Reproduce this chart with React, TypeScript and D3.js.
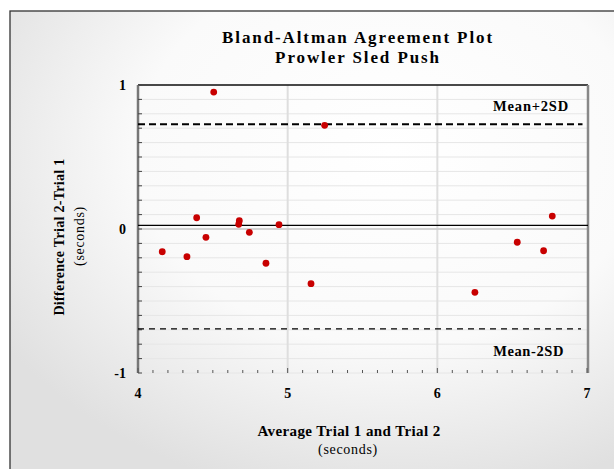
import React from "react";
import * as d3 from "d3";

const avgTrials = [4.506, 5.247, 4.392, 4.677, 4.673, 4.942, 4.744, 4.454, 4.162, 4.327, 4.855, 5.156, 6.768, 6.534, 6.71, 6.251];
const diffTrials = [0.951, 0.72, 0.078, 0.058, 0.033, 0.03, -0.023, -0.058, -0.158, -0.192, -0.238, -0.38, 0.09, -0.092, -0.151, -0.44];
const meanDiff = 0.025;
const upperLimit = 0.727;
const lowerLimit = -0.694;
const xTicks = [4, 5, 6, 7];
const yTicks = [-1, 0, 1];
const titleLines = ["Bland-Altman Agreement Plot", "Prowler Sled Push"];
const xTitleLines = ["Average Trial 1 and Trial 2", "(seconds)"];
const yTitleLines = ["Difference Trial 2-Trial 1", "(seconds)"];

const W = 614, H = 469;
const L = 138, R = 588, T = 85, B = 373;
const FONT = "'Liberation Serif', 'DejaVu Serif', serif";

export default function App() {
  const x = d3.scaleLinear().domain([4, 7]).range([L, R - 1]);
  const y = d3.scaleLinear().domain([-1, 1]).range([B, T]);
  const minorY = d3.range(-10, 11).map((v) => v / 10);
  const minorX = d3.range(40, 71).map((v) => v / 10);

  return (
    <svg width={W} height={H} style={{ position: "absolute", left: 0, top: 0 }} fontFamily={FONT}>
      <defs>
        <radialGradient id="bg" cx="0.62" cy="0.3" r="0.75">
          <stop offset="0" stopColor="#ffffff" />
          <stop offset="0.55" stopColor="#fafafa" />
          <stop offset="1" stopColor="#e0e0e0" />
        </radialGradient>
      </defs>
      <rect x={0} y={0} width={W} height={H} fill="#ffffff" />
      <rect x={10} y={11} width={W} height={H} fill="url(#bg)" stroke="#333" strokeWidth={1.3} />

      {/* minor gridlines */}
      {minorY.map((v) => (
        <line key={"gy" + v} x1={L} x2={R} y1={y(v)} y2={y(v)} stroke="#e6e6e6" strokeWidth={1} />
      ))}
      {[5, 6].map((v) => (
        <line key={"gx" + v} x1={x(v)} x2={x(v)} y1={T} y2={B} stroke="#dedede" strokeWidth={2} />
      ))}
      <line x1={L} x2={R} y1={y(0)} y2={y(0)} stroke="#c8c8c8" strokeWidth={1.5} />

      {/* frame */}
      <line x1={L} x2={R} y1={T} y2={T} stroke="#111" strokeWidth={1.5} />
      <line x1={R} x2={R} y1={T} y2={B} stroke="#888" strokeWidth={2.5} />
      <line x1={L} x2={L} y1={T} y2={B} stroke="#777" strokeWidth={2.5} />

      {/* y ticks */}
      {minorY.map((v) => (
        <line key={"ty" + v} x1={L} x2={L + 4} y1={y(v)} y2={y(v)} stroke="#444" strokeWidth={1} />
      ))}
      {/* x ticks */}
      {minorX.map((v) => {
        const major = Math.abs(v - Math.round(v)) < 1e-6;
        return (
          <line key={"tx" + v} x1={x(v)} x2={x(v)} y1={B} y2={B - (major ? 5 : 3)} stroke="#555" strokeWidth={1} />
        );
      })}

      {/* reference lines */}
      <line x1={L} x2={x(6.97)} y1={y(upperLimit)} y2={y(upperLimit)} stroke="#000" strokeWidth={2} strokeDasharray="7,4" />
      <line x1={L} x2={x(6.96)} y1={y(lowerLimit)} y2={y(lowerLimit)} stroke="#000" strokeWidth={1.3} strokeDasharray="6,5" />
      <line x1={L} x2={R} y1={y(meanDiff)} y2={y(meanDiff)} stroke="#000" strokeWidth={1.3} />

      {/* points */}
      {avgTrials.map((a, i) => (
        <circle key={"p" + i} cx={x(a)} cy={y(diffTrials[i])} r={3.4} fill="#c80000" />
      ))}

      {/* labels */}
      <text x={569} y={111} textAnchor="end" fontSize={14.5} fontWeight="bold" letterSpacing={0.8}>Mean+2SD</text>
      <text x={564} y={356} textAnchor="end" fontSize={14.5} fontWeight="bold" letterSpacing={0.6}>Mean-2SD</text>

      {yTicks.map((v) => (
        <text key={"yl" + v} x={126} y={y(v) + 5} textAnchor="end" fontSize={14} fontWeight="bold">{v === -1 ? "-1" : String(v)}</text>
      ))}
      {xTicks.map((v) => (
        <text key={"xl" + v} x={x(v)} y={398} textAnchor="middle" fontSize={14} fontWeight="bold">{v}</text>
      ))}

      <text x={358} y={43} textAnchor="middle" fontSize={17} fontWeight="bold" letterSpacing={1.9}>{titleLines[0]}</text>
      <text x={358} y={63} textAnchor="middle" fontSize={17} fontWeight="bold" letterSpacing={1.9}>{titleLines[1]}</text>

      <text x={349} y={436} textAnchor="middle" fontSize={15} fontWeight="bold" letterSpacing={0.4}>{xTitleLines[0]}</text>
      <text x={348} y={454} textAnchor="middle" fontSize={14} letterSpacing={0.7}>{xTitleLines[1]}</text>

      <text transform={`translate(64,237) rotate(-90)`} textAnchor="middle" fontSize={14} fontWeight="bold" letterSpacing={0.3}>{yTitleLines[0]}</text>
      <text transform={`translate(84,236) rotate(-90)`} textAnchor="middle" fontSize={14} letterSpacing={0.7}>{yTitleLines[1]}</text>
    </svg>
  );
}
